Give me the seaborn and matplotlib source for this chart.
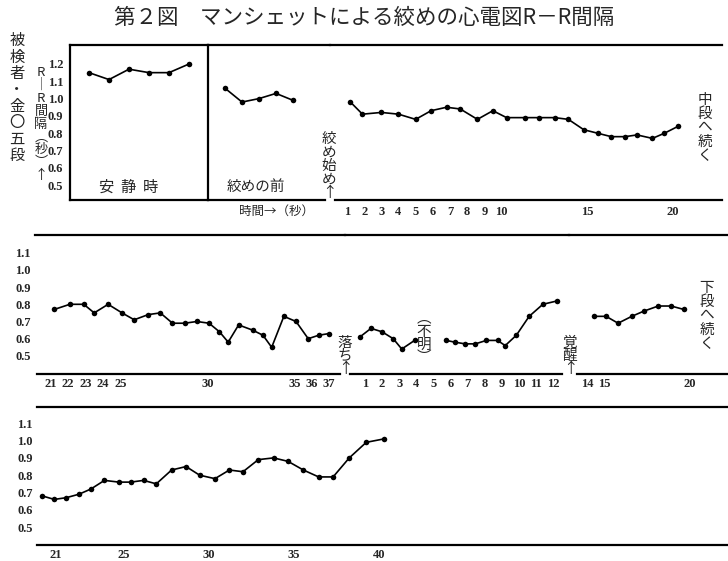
import numpy as np
import pandas as pd
import matplotlib
matplotlib.use('Agg')
import matplotlib.pyplot as plt
import seaborn as sns

# R-R間隔のデータ
rest_rr = [1.15, 1.11, 1.17, 1.15, 1.15, 1.20]
pre_rr = [1.06, 0.98, 1.00, 1.03, 0.99]

choke_t = [1.2, 1.9, 3.0, 4.0, 5.0, 5.9, 6.8, 7.6, 8.6, 9.5, 10.3, 11.4,
           12.2, 13.1, 13.9, 14.8, 15.6, 16.4, 17.2, 17.9, 18.8, 19.5, 20.3]
choke_rr = [0.98, 0.91, 0.92, 0.91, 0.88, 0.93, 0.95, 0.94, 0.88, 0.93, 0.89, 0.89,
            0.89, 0.89, 0.88, 0.82, 0.80, 0.78, 0.78, 0.79, 0.77, 0.80, 0.84]

mid_t = [21.2, 22.1, 22.9, 23.5, 24.3, 25.1, 25.8, 26.6, 27.3, 28.0, 28.7, 29.4,
         30.1, 30.7, 31.2, 31.8, 32.6, 33.2, 33.7, 34.4, 35.1, 35.8, 36.4, 37.0]
mid_rr = [0.77, 0.80, 0.80, 0.75, 0.80, 0.75, 0.71, 0.74, 0.75, 0.69, 0.69, 0.70,
          0.69, 0.64, 0.58, 0.68, 0.65, 0.62, 0.55, 0.73, 0.70, 0.60, 0.62, 0.63]

fall_t = [0.7, 1.35, 2.0, 2.65, 3.15, 3.9]
fall_rr = [0.61, 0.66, 0.64, 0.60, 0.54, 0.59]
unk_t = [5.75, 6.25, 6.85, 7.45, 8.1, 8.75, 9.2, 9.85, 10.6, 11.4, 12.25]
unk_rr = [0.59, 0.58, 0.57, 0.57, 0.59, 0.59, 0.56, 0.62, 0.73, 0.80, 0.82]
wake_t = [14.4, 15.1, 15.8, 16.6, 17.3, 18.15, 18.9, 19.65]
wake_rr = [0.73, 0.73, 0.69, 0.73, 0.76, 0.79, 0.79, 0.77]

low_t = [20.2, 20.9, 21.6, 22.35, 23.05, 23.85, 24.7, 25.4, 26.15, 26.9, 27.8, 28.65,
         29.45, 30.35, 31.2, 32.0, 32.9, 33.8, 34.65, 35.55, 36.45, 37.3, 38.25, 39.25, 40.3]
low_rr = [0.68, 0.66, 0.67, 0.69, 0.72, 0.77, 0.76, 0.76, 0.77, 0.75, 0.83, 0.85,
          0.80, 0.78, 0.83, 0.82, 0.89, 0.90, 0.88, 0.83, 0.79, 0.79, 0.90, 0.99, 1.01]

top_yticks = [0.5, 0.6, 0.7, 0.8, 0.9, 1.0, 1.1, 1.2]
low_yticks = [0.5, 0.6, 0.7, 0.8, 0.9, 1.0, 1.1]
choke_xticks = [1, 2, 3, 4, 5, 6, 7, 8, 9, 10, 15, 20]
mid_xticks = [21, 22, 23, 24, 25, 30, 35, 36, 37]
fall_xticks = [1, 2, 3, 4, 5, 6, 7, 8, 9, 10, 11, 12]
wake_xticks = [14, 15, 20]
low_xticks = [21, 25, 30, 35, 40]

sns.set_style('white')
plt.rcParams['font.family'] = ['Noto Sans CJK JP', 'DejaVu Sans']

W, H = 728, 561
fig = plt.figure(figsize=(W / 100, H / 100), dpi=100)
num_font = dict(family='Liberation Serif', weight='bold', size=9)


def px_axes(x0, x1, y0, y1, tx0, px0, pxs, vy0, py0, pyv):
    # 画素位置で軸を作り、データ→画素の比率を合わせる
    ax = fig.add_axes([x0 / W, 1 - y1 / H, (x1 - x0) / W, (y1 - y0) / H])
    ax.set_xlim(tx0 - (px0 - x0) / pxs, tx0 + (x1 - px0) / pxs)
    ax.set_ylim(vy0 - (y1 - py0) / pyv, vy0 + (py0 - y0) / pyv)
    ax.set_facecolor('none')
    for s in ax.spines.values():
        s.set_visible(False)
        s.set_linewidth(1.6)
        s.set_color('black')
    ax.tick_params(length=0, pad=3)
    ax.set_xticks([])
    ax.set_yticks([])
    return ax


def to_x(ax, px, x0, x1):
    lo, hi = ax.get_xlim()
    return lo + (px - x0) / (x1 - x0) * (hi - lo)


def draw(ax, t, v):
    sns.lineplot(x=t, y=v, ax=ax, color='black', linewidth=1.2, marker='o',
                 markersize=4, markeredgewidth=0, sort=False)


def ftext(x, y, s, **kw):
    kw.setdefault('ha', 'center')
    kw.setdefault('va', 'center')
    fig.text(x / W, 1 - y / H, s, **kw)


def vtext(x, y, s, size=10.5, ls=1.0):
    ftext(x, y, '\n'.join(s), fontsize=size, linespacing=ls)


# 上段
ax_rest = px_axes(70, 208, 45, 200, 1, 89, 20, 1.2, 64, 173)
for s in ax_rest.spines.values():
    s.set_visible(True)
draw(ax_rest, list(range(1, len(rest_rr) + 1)), rest_rr)
ax_rest.set_yticks(top_yticks)
ax_rest.set_yticklabels([f'{v:.1f}' for v in top_yticks], fontdict=num_font)
ax_rest.tick_params(axis='y', pad=5)

ax_pre = px_axes(208, 330, 45, 200, 1, 225, 17, 1.2, 64, 173)
ax_pre.spines['top'].set_visible(True)
ax_pre.spines['bottom'].set_visible(True)
ax_pre.spines['bottom'].set_bounds(to_x(ax_pre, 208, 208, 330), to_x(ax_pre, 325, 208, 330))
draw(ax_pre, list(range(1, len(pre_rr) + 1)), pre_rr)

ax_ch = px_axes(330, 722, 45, 200, 1, 347, 17.16, 1.2, 64, 173)
ax_ch.spines['top'].set_visible(True)
ax_ch.spines['bottom'].set_visible(True)
ax_ch.spines['bottom'].set_bounds(to_x(ax_ch, 335, 330, 722), to_x(ax_ch, 722, 330, 722))
draw(ax_ch, choke_t, choke_rr)
ax_ch.set_xticks(choke_xticks)
ax_ch.set_xticklabels([str(v) for v in choke_xticks], fontdict=num_font)
ax_ch.tick_params(axis='x', pad=4)

# 中段
ax_m1 = px_axes(35, 345, 235, 374, 21, 50.7, 17.4, 1.1, 252.7, 172)
ax_m1.spines['top'].set_visible(True)
ax_m1.spines['bottom'].set_visible(True)
ax_m1.spines['bottom'].set_bounds(to_x(ax_m1, 37, 35, 345), to_x(ax_m1, 340, 35, 345))
draw(ax_m1, mid_t, mid_rr)
ax_m1.set_xticks(mid_xticks)
ax_m1.set_xticklabels([str(v) for v in mid_xticks], fontdict=num_font)
ax_m1.set_yticks(low_yticks)
ax_m1.set_yticklabels([f'{v:.1f}' for v in low_yticks], fontdict=num_font)

ax_m2 = px_axes(345, 569, 235, 374, 1, 365, 17.1, 1.1, 252.7, 172)
ax_m2.spines['top'].set_visible(True)
ax_m2.spines['bottom'].set_visible(True)
ax_m2.spines['bottom'].set_bounds(to_x(ax_m2, 350, 345, 569), to_x(ax_m2, 562, 345, 569))
draw(ax_m2, fall_t, fall_rr)
draw(ax_m2, unk_t, unk_rr)
ax_m2.set_xticks(fall_xticks)
ax_m2.set_xticklabels([str(v) for v in fall_xticks], fontdict=num_font)

ax_m3 = px_axes(569, 728, 235, 374, 1, 365, 17.1, 1.1, 252.7, 172)
ax_m3.set_xlim(to_x(ax_m2, 569, 345, 569), to_x(ax_m2, 569, 345, 569) + (728 - 569) / 17.1)
ax_m3.spines['top'].set_visible(True)
ax_m3.spines['bottom'].set_visible(True)
ax_m3.spines['bottom'].set_bounds(to_x(ax_m3, 577, 569, 728), to_x(ax_m3, 728, 569, 728))
draw(ax_m3, wake_t, wake_rr)
ax_m3.set_xticks(wake_xticks)
ax_m3.set_xticklabels([str(v) for v in wake_xticks], fontdict=num_font)

# 下段
ax_b = px_axes(37, 728, 407, 545, 21, 56, 17, 1.1, 423.3, 173)
ax_b.spines['top'].set_visible(True)
ax_b.spines['bottom'].set_visible(True)
draw(ax_b, low_t, low_rr)
ax_b.set_xticks(low_xticks)
ax_b.set_xticklabels([str(v) for v in low_xticks], fontdict=num_font)
ax_b.set_yticks(low_yticks)
ax_b.set_yticklabels([f'{v:.1f}' for v in low_yticks], fontdict=num_font)

# 文字
ftext(364, 18, '第２図　マンシェットによる絞めの心電図R－R間隔', fontsize=15.5)
vtext(17, 98, '被検者・金〇五段', size=11, ls=0.95)
vtext(41, 124, ['R', '｜', 'R', '間', '隔', '︵', '秒', '︶', '↑'], size=9.5, ls=0.98)
ftext(129, 187, '安  静  時', fontsize=11)
ftext(256, 187, '絞めの前', fontsize=10.5)
ftext(277, 211, '時間→（秒）', fontsize=9)
vtext(329, 166, '絞め始め↑', size=10.5, ls=0.95)
vtext(705, 128, '中段へ続く', size=10.5, ls=1.0)
vtext(345, 356, '落ち↑', size=10.5, ls=0.95)
vtext(424, 338, ['︵', '不', '明', '︶'], size=10.5, ls=0.9)
vtext(570, 356, '覚醒↑', size=10.5, ls=0.95)
vtext(707, 316, '下段へ続く', size=10.5, ls=1.0)

fig.savefig('out.png', dpi=100)
